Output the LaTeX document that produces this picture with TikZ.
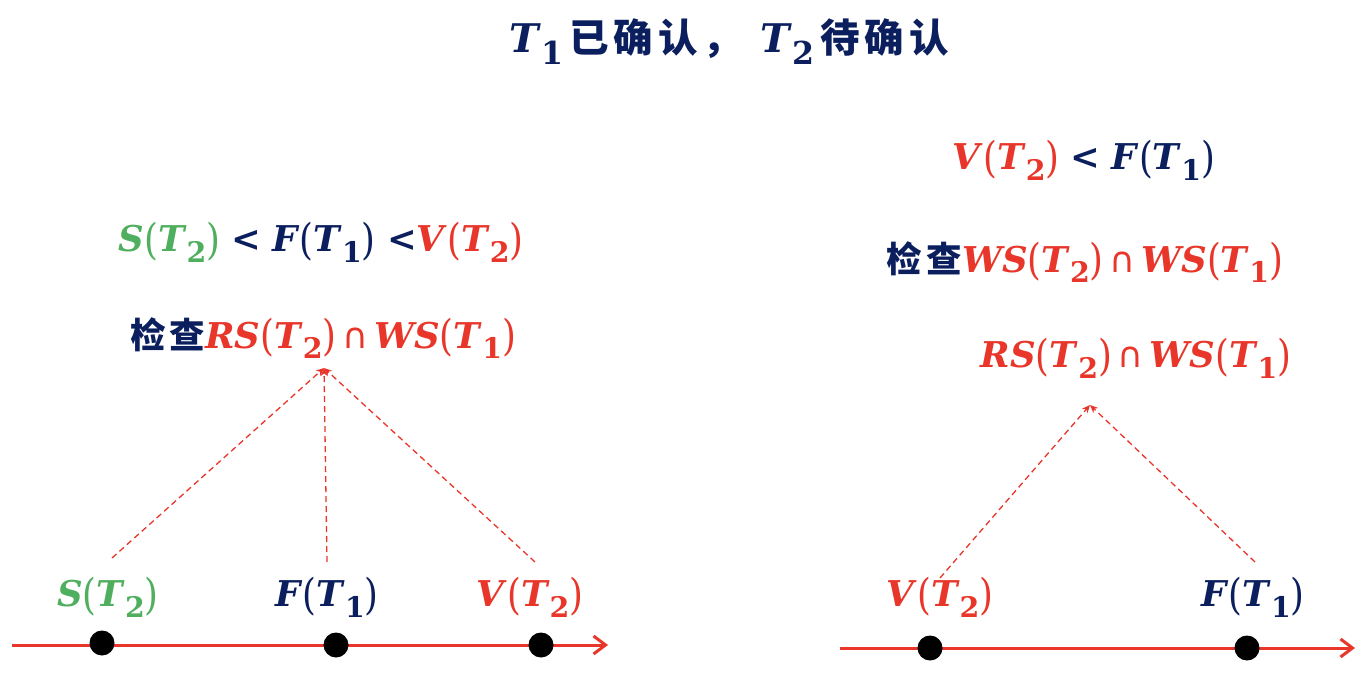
\documentclass[tikz,border=0pt]{standalone}
\usepackage{fontspec}
\usepackage{graphicx}
\setmainfont{DejaVu Serif}
\newfontfamily\cjk{Noto Sans CJK SC}
\newfontfamily\symf{DejaVu Sans}
\usetikzlibrary{arrows.meta}
\definecolor{navy}{HTML}{0B1F5E}
\definecolor{myred}{HTML}{E8362A}
\definecolor{mygreen}{HTML}{4FAF5E}
\newcommand\sbs[1]{\raisebox{-0.3em}{\scalebox{0.8}{\textbf{#1}}}}
\newcommand\lp{\raisebox{-0.08em}{\scalebox{1}[1.2]{(}}}
\newcommand\rp{\raisebox{-0.08em}{\scalebox{1}[1.2]{)}}}
\newcommand\fnc[2]{\textbf{\textit{#1}}\lp\textbf{\textit{T}}\sbs{#2}\rp}
\newcommand\capop{\,{\symf ∩}\,}
\newcommand\zh[1]{{\cjk\bfseries\addfontfeature{LetterSpace=12} #1}}
\begin{document}
\begin{tikzpicture}[x=1pt,y=-1pt,
  lbl/.style={inner sep=0pt,font=\fontsize{35.5}{42}\selectfont},
  dsh/.style={myred,line width=1.3pt,dash pattern=on 6pt off 4pt,-{Stealth[length=8pt,width=7pt]}},
  axis/.style={myred,line width=3pt,-{Straight Barb[length=12pt,width=18pt,line width=3pt]}},
  dot/.style={circle,fill=black,inner sep=0pt,minimum size=25pt}]
\useasboundingbox (0,0) rectangle (1370,692);
% title
\node[lbl,navy,font=\fontsize{39.5}{46}\selectfont] (title) at (729,42)
  {\textbf{\textit{T}}\sbs{1}\,\zh{已确认，\ }\textbf{\textit{T}}\sbs{2}\,\zh{待确认}};
% left
\node[lbl] (lc1) at (321,242) {\color{mygreen}\fnc{S}{2} \color{navy}\textbf{<} \fnc{F}{1} \textbf{<}\color{myred}\fnc{V}{2}};
\node[lbl] (lc2) at (323,338) {\color{navy}\zh{检查}\color{myred}\fnc{RS}{2}\capop\fnc{WS}{1}};
\coordinate (lt) at (324,368);
\node[lbl,mygreen] (ls) at (108,597) {\fnc{S}{2}};
\node[lbl,navy] (lf) at (327,597) {\fnc{F}{1}};
\node[lbl,myred] (lv) at (530,597) {\fnc{V}{2}};
\coordinate (la0) at (12,645);
\coordinate (la1) at (608,645);
\draw[axis] (la0) -- (la1);
\node[dot] (d1) at (102,643) {};
\node[dot] (d2) at (336,645) {};
\node[dot] (d3) at (541,645) {};
\coordinate (ss) at (112,558);
\coordinate (sf) at (327,562);
\coordinate (sv) at (535,562);
\draw[dsh] (ss) -- (lt);
\draw[dsh] (sf) -- (lt);
\draw[dsh] (sv) -- (lt);
% right
\node[lbl] (rc1) at (1084,160) {\color{myred}\fnc{V}{2} \color{navy}\textbf{<} \fnc{F}{1}};
\node[lbl] (rc2) at (1085,262) {\color{navy}\zh{检查}\color{myred}\fnc{WS}{2}\capop\fnc{WS}{1}};
\node[lbl] (rc3) at (1136,358) {\color{myred}\fnc{RS}{2}\capop\fnc{WS}{1}};
\coordinate (rt) at (1090,405);
\node[lbl,myred] (rv) at (940,597) {\fnc{V}{2}};
\node[lbl,navy] (rf) at (1253,597) {\fnc{F}{1}};
\coordinate (ra0) at (840,648);
\coordinate (ra1) at (1355,648);
\draw[axis] (ra0) -- (ra1);
\node[dot] (d4) at (930,648) {};
\node[dot] (d5) at (1247,648) {};
\coordinate (rs1) at (940,578);
\coordinate (rs2) at (1255,562);
\draw[dsh] (rs1) -- (rt);
\draw[dsh] (rs2) -- (rt);
\end{tikzpicture}
\end{document}
